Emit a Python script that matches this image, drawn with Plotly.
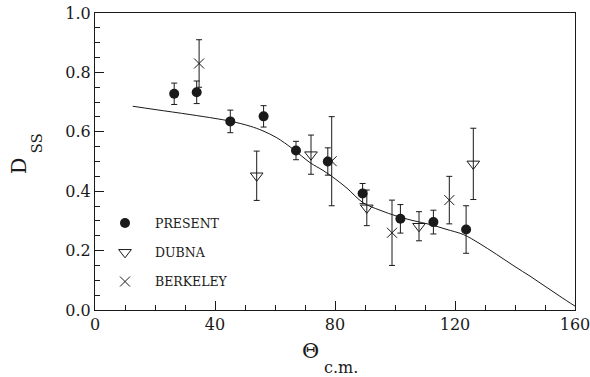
import plotly.graph_objects as go

# PRESENT (filled circles)
present_x = [26.4, 33.9, 45.1, 56.2, 67.0, 77.6, 89.2, 101.8, 112.8, 123.7]
present_y = [0.728, 0.733, 0.635, 0.652, 0.537, 0.500, 0.392, 0.307, 0.296, 0.271]
present_err = [0.036, 0.038, 0.038, 0.036, 0.031, 0.046, 0.034, 0.048, 0.040, 0.080]

# DUBNA (open down triangles)
dubna_x = [53.9, 72.0, 90.6, 108.0, 126.1]
dubna_y = [0.452, 0.523, 0.344, 0.282, 0.492]
dubna_err = [0.083, 0.066, 0.060, 0.049, 0.120]

# BERKELEY (crosses)
berk_x = [34.7, 78.9, 99.0, 118.1]
berk_y = [0.830, 0.501, 0.260, 0.370]
berk_err = [0.080, 0.150, 0.110, 0.080]

# theory curve
curve_x = [12.6, 20, 31.7, 40, 45, 51.7, 56, 60.6, 66, 71.7, 76, 80, 84, 89.4, 95, 100.6, 106,
           111.7, 117, 122.8, 128, 133.9, 140, 145, 150, 155, 160]
curve_y = [0.686, 0.675, 0.658, 0.645, 0.636, 0.619, 0.603, 0.580, 0.542, 0.496, 0.470, 0.442, 0.410,
           0.361, 0.336, 0.316, 0.301, 0.288, 0.272, 0.254, 0.225, 0.187, 0.146, 0.114, 0.080, 0.046, 0.013]

x_range = [0, 160]
y_range = [0, 1.0]

SERIF = "DejaVu Serif"
INK = "#1a1a1a"

fig = go.Figure()
fig.add_trace(go.Scatter(x=curve_x, y=curve_y, mode="lines", line=dict(color=INK, width=1, shape="spline"),
                         showlegend=False, hoverinfo="skip"))

def err(e):
    return dict(type="data", array=e, visible=True, color=INK, thickness=1, width=3)

fig.add_trace(go.Scatter(x=present_x, y=present_y, mode="markers", name="PRESENT", legendgroup="a",
                         marker=dict(symbol="circle", size=10, color=INK), error_y=err(present_err)))
fig.add_trace(go.Scatter(x=dubna_x, y=dubna_y, mode="markers", name="DUBNA", legendgroup="b",
                         marker=dict(symbol="triangle-down-open", size=11, color=INK, line=dict(width=1)),
                         error_y=err(dubna_err)))
fig.add_trace(go.Scatter(x=berk_x, y=berk_y, mode="markers", name="BERKELEY", legendgroup="c",
                         marker=dict(symbol="x-thin-open", size=10, color=INK, line=dict(width=1, color=INK)),
                         error_y=err(berk_err)))

tickfont = dict(family=SERIF, size=16, color=INK)
xminor = dict(dtick=10, ticks="inside", ticklen=5, tickcolor=INK, showgrid=False)
yminor = dict(dtick=0.05, ticks="inside", ticklen=5, tickcolor=INK, showgrid=False)

fig.update_layout(
    width=590, height=377,
    margin=dict(l=95, r=15, t=13, b=67, autoexpand=False),
    plot_bgcolor="white", paper_bgcolor="white",
    xaxis=dict(range=x_range, tick0=0, dtick=40, ticklen=9, ticks="inside", tickcolor=INK, tickwidth=1,
               showgrid=False, zeroline=False, showline=True, linecolor=INK, linewidth=1, mirror=True,
               tickfont=tickfont, ticklabeloverflow="allow", minor=xminor, automargin=False),
    yaxis=dict(range=y_range, tick0=0, dtick=0.2, ticklen=9, ticks="inside", tickcolor=INK, tickwidth=1,
               tickformat=".1f", showgrid=False, zeroline=False, showline=True, linecolor=INK, linewidth=1,
               mirror=True, tickfont=tickfont, ticklabeloverflow="allow", minor=yminor, automargin=False),
    xaxis2=dict(range=x_range, overlaying="x", side="top", anchor="y", tick0=0, dtick=40, ticklen=9,
                ticks="inside", tickcolor=INK, showticklabels=False, showgrid=False, zeroline=False,
                showline=False, minor=xminor, automargin=False),
    yaxis2=dict(range=y_range, overlaying="y", side="right", anchor="x", tick0=0, dtick=0.2, ticklen=9,
                ticks="inside", tickcolor=INK, showticklabels=False, showgrid=False, zeroline=False,
                showline=False, minor=yminor, automargin=False),
    legend=dict(x=0.0, y=0.342, xanchor="left", yanchor="top", traceorder="grouped", tracegroupgap=10,
                itemwidth=50, bgcolor="rgba(0,0,0,0)", font=dict(family=SERIF, size=12.5, color=INK)),
    annotations=[
        dict(text="D", xref="paper", yref="paper", x=-0.159, y=0.486, showarrow=False, textangle=-90,
             font=dict(family=SERIF, size=21, color=INK), xanchor="center", yanchor="middle"),
        dict(text="SS", xref="paper", yref="paper", x=-0.121, y=0.560, showarrow=False, textangle=-90,
             font=dict(family=SERIF, size=15, color=INK), xanchor="center", yanchor="middle"),
        dict(text="Θ", xref="paper", yref="paper", x=0.448, y=-0.138, showarrow=False,
             font=dict(family=SERIF, size=21, color=INK), xanchor="center", yanchor="middle"),
        dict(text="c.m.", xref="paper", yref="paper", x=0.5125, y=-0.193, showarrow=False,
             font=dict(family=SERIF, size=16, color=INK), xanchor="center", yanchor="middle"),
    ],
)

fig.write_html("out.html")
